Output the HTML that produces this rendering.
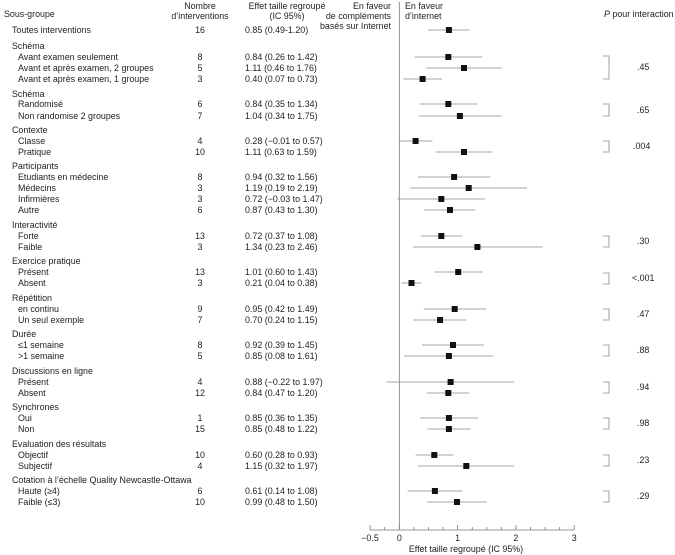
<!DOCTYPE html>
<html><head><meta charset="utf-8"><style>
html,body{margin:0;padding:0;background:#fff;}
svg{display:block;}
text{font-family:"Liberation Sans",Arial,sans-serif;font-size:8.9px;fill:#222;}
</style></head><body>
<svg width="675" height="555" viewBox="0 0 675 555" xmlns="http://www.w3.org/2000/svg">
<text x="4" y="17">Sous-groupe</text>
<text x="200" y="9" text-anchor="middle">Nombre</text>
<text x="200" y="19" text-anchor="middle">d’interventions</text>
<text x="287" y="9" text-anchor="middle">Effet taille regroupé</text>
<text x="287" y="19" text-anchor="middle">(IC 95%)</text>
<text x="391" y="9" text-anchor="end">En faveur</text>
<text x="391" y="19" text-anchor="end">de compléments</text>
<text x="391" y="29" text-anchor="end">basés sur Internet</text>
<text x="405" y="9">En faveur</text>
<text x="405" y="19">d’internet</text>
<text x="604" y="17"><tspan font-style="italic">P</tspan>  pour interaction</text>

<line x1="399.3" y1="2" x2="399.3" y2="530" stroke="#777" stroke-width="0.8"/>
<line x1="370" y1="530" x2="574" y2="530" stroke="#777" stroke-width="0.8"/>
<g stroke="#777" stroke-width="0.8">
<line x1="370.1" y1="530" x2="370.1" y2="525"/><line x1="384.7" y1="530" x2="384.7" y2="527"/>
<line x1="399.3" y1="530" x2="399.3" y2="525"/><line x1="413.9" y1="530" x2="413.9" y2="527"/>
<line x1="428.4" y1="530" x2="428.4" y2="527"/><line x1="443.0" y1="530" x2="443.0" y2="527"/>
<line x1="457.6" y1="530" x2="457.6" y2="525"/><line x1="472.2" y1="530" x2="472.2" y2="527"/>
<line x1="486.8" y1="530" x2="486.8" y2="527"/><line x1="501.3" y1="530" x2="501.3" y2="527"/>
<line x1="515.9" y1="530" x2="515.9" y2="525"/><line x1="530.5" y1="530" x2="530.5" y2="527"/>
<line x1="545.1" y1="530" x2="545.1" y2="527"/><line x1="559.7" y1="530" x2="559.7" y2="527"/>
<line x1="574.2" y1="530" x2="574.2" y2="525"/>
</g>
<text x="370" y="541" text-anchor="middle">−0.5</text>
<text x="399.3" y="541" text-anchor="middle">0</text>
<text x="457.6" y="541" text-anchor="middle">1</text>
<text x="515.9" y="541" text-anchor="middle">2</text>
<text x="574.2" y="541" text-anchor="middle">3</text>
<text x="466" y="552" text-anchor="middle">Effet taille regroupé (IC 95%)</text>

<g>
<text x="12" y="33">Toutes interventions</text><text x="200" y="33" text-anchor="middle">16</text><text x="245" y="33">0.85 (0.49-1.20)</text>
<text x="12" y="49">Schéma</text>
<text x="18" y="60">Avant examen seulement</text><text x="200" y="60" text-anchor="middle">8</text><text x="245" y="60">0.84 (0.26 to 1.42)</text>
<text x="18" y="71">Avant et après examen, 2 groupes</text><text x="200" y="71" text-anchor="middle">5</text><text x="245" y="71">1.11 (0.46 to 1.76)</text>
<text x="18" y="82">Avant et après examen, 1 groupe</text><text x="200" y="82" text-anchor="middle">3</text><text x="245" y="82">0.40 (0.07 to 0.73)</text>
<text x="12" y="97">Schéma</text>
<text x="18" y="107">Randomisé</text><text x="200" y="107" text-anchor="middle">6</text><text x="245" y="107">0.84 (0.35 to 1.34)</text>
<text x="18" y="119">Non randomise 2 groupes</text><text x="200" y="119" text-anchor="middle">7</text><text x="245" y="119">1.04 (0.34 to 1.75)</text>
<text x="12" y="133">Contexte</text>
<text x="18" y="144">Classe</text><text x="200" y="144" text-anchor="middle">4</text><text x="245" y="144">0.28 (−0.01 to 0.57)</text>
<text x="18" y="155">Pratique</text><text x="200" y="155" text-anchor="middle">10</text><text x="245" y="155">1.11 (0.63 to 1.59)</text>
<text x="12" y="169">Participants</text>
<text x="18" y="180">Etudiants en médecine</text><text x="200" y="180" text-anchor="middle">8</text><text x="245" y="180">0.94 (0.32 to 1.56)</text>
<text x="18" y="191">Médecins</text><text x="200" y="191" text-anchor="middle">3</text><text x="245" y="191">1.19 (0.19 to 2.19)</text>
<text x="18" y="202">Infirmières</text><text x="200" y="202" text-anchor="middle">3</text><text x="245" y="202">0.72 (−0.03 to 1.47)</text>
<text x="18" y="213">Autre</text><text x="200" y="213" text-anchor="middle">6</text><text x="245" y="213">0.87 (0.43 to 1.30)</text>
<text x="12" y="228">Interactivité</text>
<text x="18" y="239">Forte</text><text x="200" y="239" text-anchor="middle">13</text><text x="245" y="239">0.72 (0.37 to 1.08)</text>
<text x="18" y="250">Faible</text><text x="200" y="250" text-anchor="middle">3</text><text x="245" y="250">1.34 (0.23 to 2.46)</text>
<text x="12" y="264">Exercice pratique</text>
<text x="18" y="275">Présent</text><text x="200" y="275" text-anchor="middle">13</text><text x="245" y="275">1.01 (0.60 to 1.43)</text>
<text x="18" y="286">Absent</text><text x="200" y="286" text-anchor="middle">3</text><text x="245" y="286">0.21 (0.04 to 0.38)</text>
<text x="12" y="301">Répétition</text>
<text x="18" y="312">en continu</text><text x="200" y="312" text-anchor="middle">9</text><text x="245" y="312">0.95 (0.42 to 1.49)</text>
<text x="18" y="323">Un seul exemple</text><text x="200" y="323" text-anchor="middle">7</text><text x="245" y="323">0.70 (0.24 to 1.15)</text>
<text x="12" y="337">Durée</text>
<text x="18" y="348">≤1 semaine</text><text x="200" y="348" text-anchor="middle">8</text><text x="245" y="348">0.92 (0.39 to 1.45)</text>
<text x="18" y="359">&gt;1 semaine</text><text x="200" y="359" text-anchor="middle">5</text><text x="245" y="359">0.85 (0.08 to 1.61)</text>
<text x="12" y="374">Discussions en ligne</text>
<text x="18" y="385">Présent</text><text x="200" y="385" text-anchor="middle">4</text><text x="245" y="385">0.88 (−0.22 to 1.97)</text>
<text x="18" y="396">Absent</text><text x="200" y="396" text-anchor="middle">12</text><text x="245" y="396">0.84 (0.47 to 1.20)</text>
<text x="12" y="410">Synchrones</text>
<text x="18" y="421">Oui</text><text x="200" y="421" text-anchor="middle">1</text><text x="245" y="421">0.85 (0.36 to 1.35)</text>
<text x="18" y="432">Non</text><text x="200" y="432" text-anchor="middle">15</text><text x="245" y="432">0.85 (0.48 to 1.22)</text>
<text x="12" y="447">Evaluation des résultats</text>
<text x="18" y="458">Objectif</text><text x="200" y="458" text-anchor="middle">10</text><text x="245" y="458">0.60 (0.28 to 0.93)</text>
<text x="18" y="469">Subjectif</text><text x="200" y="469" text-anchor="middle">4</text><text x="245" y="469">1.15 (0.32 to 1.97)</text>
<text x="12" y="483">Cotation à l’échelle Quality Newcastle-Ottawa</text>
<text x="18" y="494">Haute (≥4)</text><text x="200" y="494" text-anchor="middle">6</text><text x="245" y="494">0.61 (0.14 to 1.08)</text>
<text x="18" y="505">Faible (≤3)</text><text x="200" y="505" text-anchor="middle">10</text><text x="245" y="505">0.99 (0.48 to 1.50)</text>
</g>

<g stroke="#888" stroke-width="0.8">
<line x1="427.9" y1="30" x2="469.3" y2="30"/>
<line x1="414.5" y1="57" x2="482.1" y2="57"/>
<line x1="426.1" y1="68" x2="501.9" y2="68"/>
<line x1="403.4" y1="79" x2="441.9" y2="79"/>
<line x1="419.7" y1="104" x2="477.4" y2="104"/>
<line x1="419.1" y1="116" x2="501.3" y2="116"/>
<line x1="398.7" y1="141" x2="432.5" y2="141"/>
<line x1="436.0" y1="152" x2="492.0" y2="152"/>
<line x1="418.0" y1="177" x2="490.2" y2="177"/>
<line x1="410.4" y1="188" x2="527.0" y2="188"/>
<line x1="397.5" y1="199" x2="485.0" y2="199"/>
<line x1="424.4" y1="210" x2="475.1" y2="210"/>
<line x1="420.9" y1="236" x2="462.3" y2="236"/>
<line x1="412.7" y1="247" x2="542.7" y2="247"/>
<line x1="434.3" y1="272" x2="482.7" y2="272"/>
<line x1="401.6" y1="283" x2="421.5" y2="283"/>
<line x1="423.8" y1="309" x2="486.2" y2="309"/>
<line x1="413.3" y1="320" x2="466.4" y2="320"/>
<line x1="422.0" y1="345" x2="483.8" y2="345"/>
<line x1="404.0" y1="356" x2="493.2" y2="356"/>
<line x1="386.5" y1="382" x2="514.2" y2="382"/>
<line x1="426.7" y1="393" x2="469.3" y2="393"/>
<line x1="420.3" y1="418" x2="478.0" y2="418"/>
<line x1="427.3" y1="429" x2="470.4" y2="429"/>
<line x1="415.6" y1="455" x2="453.5" y2="455"/>
<line x1="418.0" y1="466" x2="514.2" y2="466"/>
<line x1="407.5" y1="491" x2="462.3" y2="491"/>
<line x1="427.3" y1="502" x2="486.8" y2="502"/>
</g>
<g fill="#111">
<rect x="445.9" y="27" width="6" height="6"/>
<rect x="445.3" y="54" width="6" height="6"/>
<rect x="461.0" y="65" width="6" height="6"/>
<rect x="419.6" y="76" width="6" height="6"/>
<rect x="445.3" y="101" width="6" height="6"/>
<rect x="456.9" y="113" width="6" height="6"/>
<rect x="412.6" y="138" width="6" height="6"/>
<rect x="461.0" y="149" width="6" height="6"/>
<rect x="451.1" y="174" width="6" height="6"/>
<rect x="465.7" y="185" width="6" height="6"/>
<rect x="438.3" y="196" width="6" height="6"/>
<rect x="447.0" y="207" width="6" height="6"/>
<rect x="438.3" y="233" width="6" height="6"/>
<rect x="474.4" y="244" width="6" height="6"/>
<rect x="455.2" y="269" width="6" height="6"/>
<rect x="408.5" y="280" width="6" height="6"/>
<rect x="451.7" y="306" width="6" height="6"/>
<rect x="437.1" y="317" width="6" height="6"/>
<rect x="450.0" y="342" width="6" height="6"/>
<rect x="445.9" y="353" width="6" height="6"/>
<rect x="447.6" y="379" width="6" height="6"/>
<rect x="445.3" y="390" width="6" height="6"/>
<rect x="445.9" y="415" width="6" height="6"/>
<rect x="445.9" y="426" width="6" height="6"/>
<rect x="431.3" y="452" width="6" height="6"/>
<rect x="463.3" y="463" width="6" height="6"/>
<rect x="431.9" y="488" width="6" height="6"/>
<rect x="454.0" y="499" width="6" height="6"/>
</g>
<g stroke="#888" stroke-width="0.8" fill="none">
<polyline points="603,56 609,56 609,79 603,79"/>
<polyline points="603,104 609,104 609,116 603,116"/>
<polyline points="603,141 609,141 609,152 603,152"/>
<polyline points="603,236 609,236 609,247 603,247"/>
<polyline points="603,273 609,273 609,284 603,284"/>
<polyline points="603,309 609,309 609,320 603,320"/>
<polyline points="603,345 609,345 609,356 603,356"/>
<polyline points="603,382 609,382 609,393 603,393"/>
<polyline points="603,418 609,418 609,429 603,429"/>
<polyline points="603,455 609,455 609,466 603,466"/>
<polyline points="603,491 609,491 609,502 603,502"/>
</g>
<g>
<text x="637" y="70">.45</text>
<text x="637" y="113">.65</text>
<text x="633" y="149">.004</text>
<text x="637" y="244">.30</text>
<text x="632" y="281">&lt;.001</text>
<text x="637" y="317">.47</text>
<text x="637" y="353">.88</text>
<text x="637" y="390">.94</text>
<text x="637" y="426">.98</text>
<text x="637" y="463">.23</text>
<text x="637" y="499">.29</text>
</g>
</svg>
</body></html>
